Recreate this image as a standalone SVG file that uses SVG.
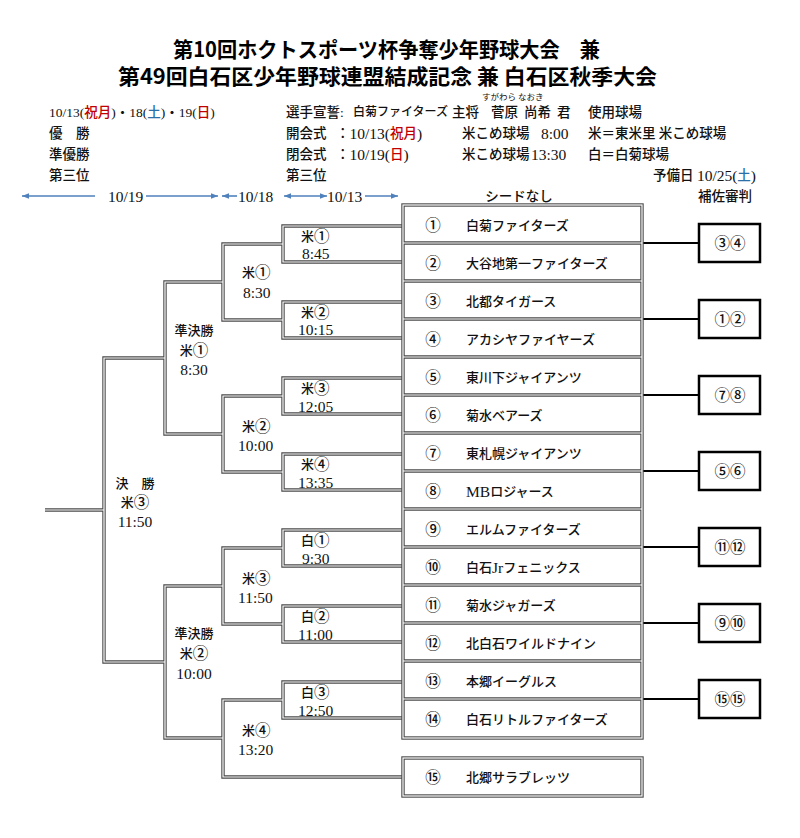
<svg xmlns="http://www.w3.org/2000/svg" xmlns:xlink="http://www.w3.org/1999/xlink" width="800" height="838" viewBox="0 0 800 838">
<style>
.ti{font-family:"Noto Sans CJK JP","Noto Sans CJK SC",sans-serif;font-weight:bold;font-size:21px;fill:#000;dominant-baseline:central}
.t{font-family:"Liberation Serif","Noto Sans CJK JP",serif;font-size:13.5px;font-weight:500;fill:#111;dominant-baseline:central}
.s{font-family:"Noto Sans CJK JP",sans-serif;font-size:8.5px;fill:#111;dominant-baseline:central}
.tm{font-family:"Liberation Serif","Noto Sans CJK JP",serif;font-size:13px;font-weight:500;fill:#111;dominant-baseline:central}
.n{font-size:15.5px}
.c{font-size:15.5px}
.red{fill:#c00000}
.blu{fill:#2a6fa8}
.lo{fill:none;stroke:#4a4a4a;stroke-width:3.4}
.li{fill:none;stroke:#fff;stroke-width:1.2}
.arr{stroke:#4f81bd;stroke-width:1.6;fill:none}
.ref{fill:#fff;stroke:#000;stroke-width:2.5}
.rl{stroke:#000;stroke-width:2;fill:none}
</style>
<defs>
<marker id="ah" viewBox="0 0 10 10" refX="10" refY="5" markerWidth="7" markerHeight="7" markerUnits="userSpaceOnUse" orient="auto-start-reverse">
<path d="M0,1 L10,5 L0,9 z" fill="#4f81bd"/>
</marker>
<g id="brk">
<path d="M403 226H283V262H403M403 302H283V338H403M403 378H283V414H403M403 454H283V490H403M403 530H283V566H403M403 606H283V642H403M403 682H283V718H403"/>
<path d="M283 244H223V320H283M283 396H223V472H283M283 548H223V624H283M283 700H223V777H403"/>
<path d="M223 282H165V434H223M223 586H165V738H223"/>
<path d="M165 358H104V662H165M104 510H45"/>
</g>
<g id="frm">
<rect x="403" y="205" width="239" height="533"/>
<path d="M403 243H642M403 281H642M403 319H642M403 357H642M403 395H642M403 433H642M403 471H642M403 509H642M403 547H642M403 585H642M403 623H642M403 661H642M403 699H642"/>
<rect x="403" y="758" width="239" height="38"/>
</g>
</defs>
<rect width="800" height="838" fill="#fff"/>

<g id="header">
<text class="ti" x="173" y="48" textLength="427" lengthAdjust="spacingAndGlyphs">第10回ホクトスポーツ杯争奪少年野球大会　兼</text>
<text class="ti" x="118" y="75" textLength="539" lengthAdjust="spacingAndGlyphs">第49回白石区少年野球連盟結成記念 兼 白石区秋季大会</text>
<text class="t" x="49" y="112">10/13(<tspan class="red">祝月</tspan>)・18(<tspan class="blu">土</tspan>)・19(<tspan class="red">日</tspan>)</text>
<text class="t" x="49" y="133">優　勝</text>
<text class="t" x="49" y="154">準優勝</text>
<text class="t" x="49" y="175">第三位</text>
<text class="s" x="482" y="96">すがわら なおき</text>
<text class="t" x="286" y="112">選手宣誓:</text>
<text class="t" x="353" y="112" style="font-size:12px">白菊ファイターズ</text>
<text class="t" x="452" y="112">主将</text>
<text class="t" x="491" y="112">菅原</text>
<text class="t" x="524" y="112">尚希</text>
<text class="t" x="557" y="112">君</text>
<text class="t" x="588" y="112">使用球場</text>
<text class="t" x="286" y="133">開会式</text>
<text class="t" x="336" y="133">：<tspan class="n">10/13(</tspan><tspan class="red">祝月</tspan><tspan class="n">)</tspan></text>
<text class="t" x="462" y="133">米こめ球場</text>
<text class="t n" x="541" y="133">8:00</text>
<text class="t" x="588" y="133">米＝東米里 米こめ球場</text>
<text class="t" x="286" y="154">閉会式</text>
<text class="t" x="336" y="154">：<tspan class="n">10/19(</tspan><tspan class="red">日</tspan><tspan class="n">)</tspan></text>
<text class="t" x="462" y="154">米こめ球場</text>
<text class="t n" x="531" y="154">13:30</text>
<text class="t" x="588" y="154">白＝白菊球場</text>
<text class="t" x="286" y="175">第三位</text>
<text class="t" x="653" y="175">予備日 <tspan class="n">10/25(</tspan><tspan class="blu">土</tspan><tspan class="n">)</tspan></text>
<text class="t" x="519" y="196" text-anchor="middle">シードなし</text>
<text class="t" x="725" y="196" text-anchor="middle">補佐審判</text>
<text class="t n" x="108" y="196">10/19</text>
<text class="t n" x="238" y="196">10/18</text>
<text class="t n" x="327" y="196">10/13</text>
</g>

<g id="date-arrows">
<path class="arr" d="M95 196H22" marker-end="url(#ah)"/>
<path class="arr" d="M146 196H218" marker-end="url(#ah)"/>
<path class="arr" d="M237 196H222" marker-end="url(#ah)"/>
<path class="arr" d="M284 196H327" marker-start="url(#ah)" marker-end="url(#ah)"/>
<path class="arr" d="M365 196H398" marker-end="url(#ah)"/>
</g>

<g id="connectors">
<use xlink:href="#brk" class="lo"/>
<use xlink:href="#brk" class="li"/>
<path class="rl" d="M642 243H699M642 319H699M642 395H699M642 471H699M642 547H699M642 623H699M642 699H699"/>
</g>

<g id="team-frame">
<use xlink:href="#frm" class="lo"/>
<use xlink:href="#frm" class="li"/>
</g>

<g id="team1"><text class="tm c" x="433" y="225" text-anchor="middle">①</text><text class="tm" x="466" y="225">白菊ファイターズ</text></g>
<g id="team2"><text class="tm c" x="433" y="263" text-anchor="middle">②</text><text class="tm" x="466" y="263">大谷地第一ファイターズ</text></g>
<g id="team3"><text class="tm c" x="433" y="301" text-anchor="middle">③</text><text class="tm" x="466" y="301">北都タイガース</text></g>
<g id="team4"><text class="tm c" x="433" y="339" text-anchor="middle">④</text><text class="tm" x="466" y="339">アカシヤファイヤーズ</text></g>
<g id="team5"><text class="tm c" x="433" y="377" text-anchor="middle">⑤</text><text class="tm" x="466" y="377">東川下ジャイアンツ</text></g>
<g id="team6"><text class="tm c" x="433" y="415" text-anchor="middle">⑥</text><text class="tm" x="466" y="415">菊水ベアーズ</text></g>
<g id="team7"><text class="tm c" x="433" y="453" text-anchor="middle">⑦</text><text class="tm" x="466" y="453">東札幌ジャイアンツ</text></g>
<g id="team8"><text class="tm c" x="433" y="491" text-anchor="middle">⑧</text><text class="tm" x="466" y="491"><tspan class="n">MB</tspan>ロジャース</text></g>
<g id="team9"><text class="tm c" x="433" y="529" text-anchor="middle">⑨</text><text class="tm" x="466" y="529">エルムファイターズ</text></g>
<g id="team10"><text class="tm c" x="433" y="567" text-anchor="middle">⑩</text><text class="tm" x="466" y="567">白石<tspan class="n">Jr</tspan>フェニックス</text></g>
<g id="team11"><text class="tm c" x="433" y="605" text-anchor="middle">⑪</text><text class="tm" x="466" y="605">菊水ジャガーズ</text></g>
<g id="team12"><text class="tm c" x="433" y="643" text-anchor="middle">⑫</text><text class="tm" x="466" y="643">北白石ワイルドナイン</text></g>
<g id="team13"><text class="tm c" x="433" y="681" text-anchor="middle">⑬</text><text class="tm" x="466" y="681">本郷イーグルス</text></g>
<g id="team14"><text class="tm c" x="433" y="719" text-anchor="middle">⑭</text><text class="tm" x="466" y="719">白石リトルファイターズ</text></g>
<g id="team15"><text class="tm c" x="433" y="777" text-anchor="middle">⑮</text><text class="tm" x="466" y="777">北郷サラブレッツ</text></g>

<g id="m-kome1"><text class="tm" x="301" y="236">米<tspan class="c">①</tspan></text><text class="tm n" x="302" y="253">8:45</text></g>
<g id="m-kome2"><text class="tm" x="301" y="312">米<tspan class="c">②</tspan></text><text class="tm n" x="298" y="329">10:15</text></g>
<g id="m-kome3"><text class="tm" x="301" y="388">米<tspan class="c">③</tspan></text><text class="tm n" x="298" y="406">12:05</text></g>
<g id="m-kome4"><text class="tm" x="301" y="464">米<tspan class="c">④</tspan></text><text class="tm n" x="298" y="482">13:35</text></g>
<g id="m-shiro1"><text class="tm" x="301" y="540">白<tspan class="c">①</tspan></text><text class="tm n" x="302" y="558">9:30</text></g>
<g id="m-shiro2"><text class="tm" x="301" y="616">白<tspan class="c">②</tspan></text><text class="tm n" x="298" y="634">11:00</text></g>
<g id="m-shiro3"><text class="tm" x="301" y="692">白<tspan class="c">③</tspan></text><text class="tm n" x="298" y="710">12:50</text></g>

<g id="r2-kome1"><text class="tm" x="242" y="272">米<tspan class="c">①</tspan></text><text class="tm n" x="243" y="292">8:30</text></g>
<g id="r2-kome2"><text class="tm" x="242" y="426">米<tspan class="c">②</tspan></text><text class="tm n" x="238" y="445">10:00</text></g>
<g id="r2-kome3"><text class="tm" x="242" y="578">米<tspan class="c">③</tspan></text><text class="tm n" x="238" y="597">11:50</text></g>
<g id="r2-kome4"><text class="tm" x="242" y="730">米<tspan class="c">④</tspan></text><text class="tm n" x="238" y="749">13:20</text></g>

<g id="semi1"><text class="tm" x="194" y="330" text-anchor="middle">準決勝</text><text class="tm" x="194" y="350" text-anchor="middle">米<tspan class="c">①</tspan></text><text class="tm n" x="194" y="369" text-anchor="middle">8:30</text></g>
<g id="semi2"><text class="tm" x="194" y="633" text-anchor="middle">準決勝</text><text class="tm" x="194" y="653" text-anchor="middle">米<tspan class="c">②</tspan></text><text class="tm n" x="194" y="673" text-anchor="middle">10:00</text></g>
<g id="final"><text class="tm" x="135" y="483" text-anchor="middle">決　勝</text><text class="tm" x="135" y="502" text-anchor="middle">米<tspan class="c">③</tspan></text><text class="tm n" x="135" y="521" text-anchor="middle">11:50</text></g>

<g id="ref1"><rect class="ref" x="699" y="224" width="61" height="38"/><text class="tm c" x="730" y="243" text-anchor="middle">③④</text></g>
<g id="ref2"><rect class="ref" x="699" y="300" width="61" height="38"/><text class="tm c" x="730" y="319" text-anchor="middle">①②</text></g>
<g id="ref3"><rect class="ref" x="699" y="376" width="61" height="38"/><text class="tm c" x="730" y="395" text-anchor="middle">⑦⑧</text></g>
<g id="ref4"><rect class="ref" x="699" y="452" width="61" height="38"/><text class="tm c" x="730" y="471" text-anchor="middle">⑤⑥</text></g>
<g id="ref5"><rect class="ref" x="699" y="528" width="61" height="38"/><text class="tm c" x="730" y="547" text-anchor="middle">⑪⑫</text></g>
<g id="ref6"><rect class="ref" x="699" y="604" width="61" height="38"/><text class="tm c" x="730" y="623" text-anchor="middle">⑨⑩</text></g>
<g id="ref7"><rect class="ref" x="699" y="680" width="61" height="38"/><text class="tm c" x="730" y="699" text-anchor="middle">⑮⑮</text></g>
</svg>
